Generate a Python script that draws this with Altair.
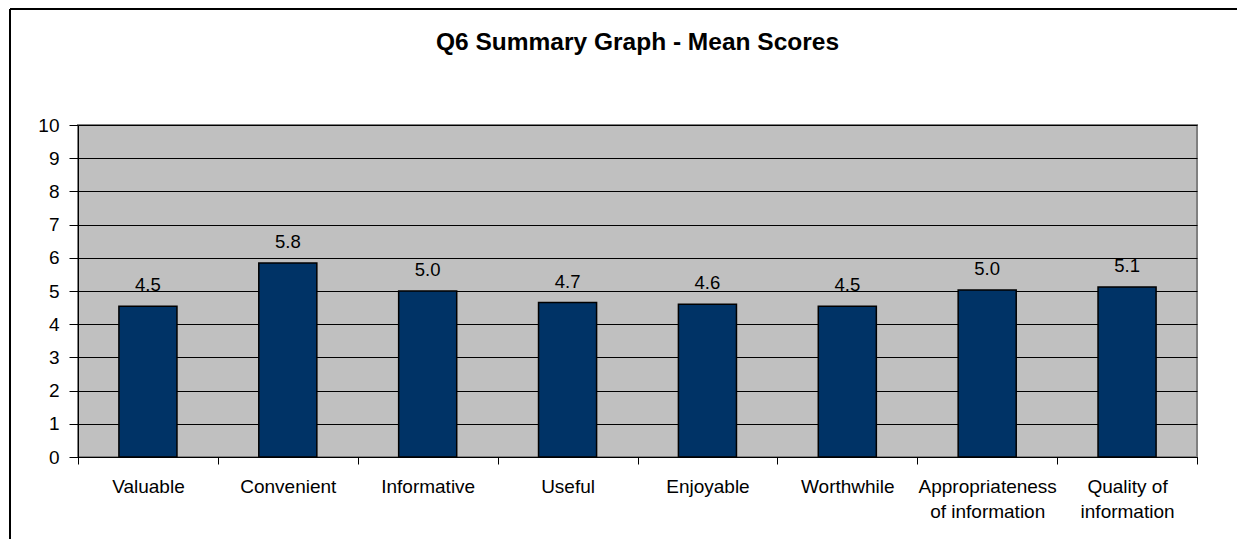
import altair as alt
import pandas as pd

categories = ["Valuable", "Convenient", "Informative", "Useful", "Enjoyable",
              "Worthwhile", "Appropriateness\nof information", "Quality of\ninformation"]
means = [4.54, 5.84, 5.00, 4.65, 4.60, 4.54, 5.03, 5.12]
value_labels = ["4.5", "5.8", "5.0", "4.7", "4.6", "4.5", "5.0", "5.1"]
y_ticks = [0, 1, 2, 3, 4, 5, 6, 7, 8, 9, 10]

df = pd.DataFrame({"cat": categories, "mean": means, "lab": value_labels})

FONT = "Liberation Sans"

x_enc = alt.X("cat:N", sort=categories, title=None,
              scale=alt.Scale(paddingInner=0, paddingOuter=0),
              axis=alt.Axis(labelAngle=0, labelFontSize=19, labelFont=FONT,
                            labelColor="black", labelLineHeight=25,
                            labelExpr="split(datum.label, '\\n')",
                            tickBand="extent", tickSize=7, tickColor="black",
                            domainColor="black", labelPadding=13,
                            labelBaseline="top", labelOverlap=False))
y_enc = alt.Y("mean:Q", title=None,
              scale=alt.Scale(domain=[0, 10], nice=False),
              axis=alt.Axis(values=y_ticks, labelFontSize=19, labelFont=FONT,
                            labelColor="black", grid=True, gridColor="black",
                            gridWidth=1, tickSize=9, tickColor="black",
                            domainColor="black", labelPadding=10,
                            labelOverlap=False))

bars = alt.Chart(df).mark_bar(
    color="#003366", stroke="black", strokeWidth=1.5,
    width=alt.RelativeBandSize(0.415)
).encode(x=x_enc, y=y_enc)

texts = alt.Chart(df).mark_text(
    font=FONT, fontSize=18.5, color="black", baseline="alphabetic", dy=-15
).encode(x=x_enc, y=y_enc, text="lab:N")

frame_left = alt.Chart(df).mark_rule(color="black", strokeWidth=2).encode(
    x=alt.value(-68), y=alt.value(-116), y2=alt.value(600))
frame_top = alt.Chart(df).mark_rule(color="black", strokeWidth=2).encode(
    x=alt.value(-68), x2=alt.value(1300), y=alt.value(-116), y2=alt.value(-116))

chart = alt.layer(bars, texts, frame_left, frame_top).properties(
    width=1119, height=332,
    background="white",
    title=alt.TitleParams("Q6 Summary Graph - Mean Scores", font=FONT,
                          fontSize=24.5, fontWeight="bold", color="black",
                          anchor="middle", frame="group", offset=-66,
                          baseline="alphabetic"),
    autosize=alt.AutoSizeParams(type="none"),
    padding={"left": 70, "top": 117, "right": 40, "bottom": 82},
).configure_view(
    fill="#C0C0C0", stroke="#808080", strokeWidth=2
)

chart.save("out.html", embed_options={"renderer": "svg", "actions": False})
